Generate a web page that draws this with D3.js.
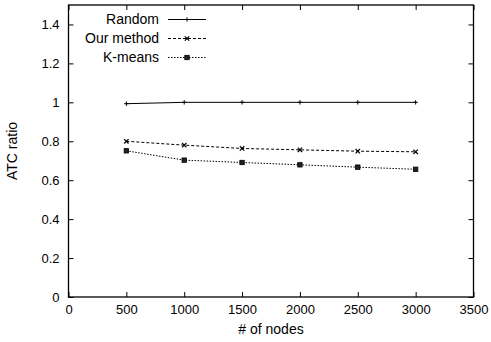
<!DOCTYPE html>
<html>
<head>
<meta charset="utf-8">
<script src="https://cdn.jsdelivr.net/npm/d3@7"></script>
<style>
  body { margin: 0; background: #fff; }
  text { font-family: "Liberation Sans", Arial, sans-serif; font-size: 14px; fill: #000; }
</style>
</head>
<body>
<div id="chart"></div>
<script>
// DATA
var nodes = [500, 1000, 1500, 2000, 2500, 3000];
var randomVals = [0.993, 1.0, 1.0, 1.0, 1.0, 1.0];
var ourVals = [0.800, 0.780, 0.763, 0.756, 0.749, 0.746];
var kmeansVals = [0.751, 0.703, 0.691, 0.679, 0.667, 0.656];
var xTicks = [0, 500, 1000, 1500, 2000, 2500, 3000, 3500];
var yTicks = [0, 0.2, 0.4, 0.6, 0.8, 1, 1.2, 1.4];

var W = 491, H = 342;
var margin = {top: 5, right: 17.5, bottom: 45, left: 68.5};
var width = W - margin.left - margin.right,
    height = H - margin.top - margin.bottom;

var svg = d3.select("#chart").append("svg")
  .attr("width", W).attr("height", H);
var g = svg.append("g")
  .attr("transform", "translate(" + margin.left + "," + margin.top + ")");

var x = d3.scaleLinear().domain([0, 3500]).range([0, width]);
var y = d3.scaleLinear().domain([0, 1.5]).range([height, 0]);

// ticks (inward, mirrored like gnuplot)
var tl = 5;
g.append("g").attr("transform", "translate(0," + height + ")")
  .call(d3.axisBottom(x).tickValues(xTicks).tickSize(-tl).tickPadding(8).tickFormat(d3.format("d")))
  .call(function(a){ a.select(".domain").remove(); });
g.append("g")
  .call(d3.axisTop(x).tickValues(xTicks).tickSize(-tl).tickFormat(""))
  .call(function(a){ a.select(".domain").remove(); });
g.append("g")
  .call(d3.axisLeft(y).tickValues(yTicks).tickSize(-tl).tickPadding(9).tickFormat(function(d){ return d3.format("")(+d.toFixed(1)); }))
  .call(function(a){ a.select(".domain").remove(); });
g.append("g").attr("transform", "translate(" + width + ",0)")
  .call(d3.axisRight(y).tickValues(yTicks).tickSize(-tl).tickFormat(""))
  .call(function(a){ a.select(".domain").remove(); });
g.selectAll(".tick text").style("font-size", "13px").attr("fill", "#000")
  .style("font-family", "'Liberation Sans', Arial, sans-serif");
g.selectAll(".tick line").attr("stroke", "#000");

g.append("rect").attr("width", width).attr("height", height)
  .attr("fill", "none").attr("stroke", "#000").attr("stroke-width", 1.3);

// labels
svg.append("text").attr("x", margin.left + width / 2).attr("y", 334)
  .attr("text-anchor", "middle").text("# of nodes");
svg.append("text")
  .attr("transform", "translate(17," + (margin.top + height / 2) + ") rotate(-90)")
  .attr("text-anchor", "middle").text("ATC ratio");

var series = [
  {name: "Random", vals: randomVals, dash: null, marker: "plus"},
  {name: "Our method", vals: ourVals, dash: "3,2", marker: "cross"},
  {name: "K-means", vals: kmeansVals, dash: "1.5,1.5", marker: "box"}
];

function drawMarker(sel, type, px, py) {
  var r = 2.2;
  if (type === "plus") {
    sel.append("path").attr("d", "M" + (px - r) + "," + py + "H" + (px + r) + "M" + px + "," + (py - r) + "V" + (py + r))
      .attr("stroke", "#000").attr("stroke-width", 1);
  } else if (type === "cross") {
    sel.append("path").attr("d", "M" + (px - r) + "," + (py - r) + "L" + (px + r) + "," + (py + r) + "M" + (px - r) + "," + (py + r) + "L" + (px + r) + "," + (py - r))
      .attr("stroke", "#000").attr("stroke-width", 1.2);
  } else {
    sel.append("rect").attr("x", px - r).attr("y", py - r).attr("width", 2 * r).attr("height", 2 * r)
      .attr("fill", "#222").attr("stroke", "#000").attr("stroke-width", 0.8);
  }
}

var line = d3.line().x(function(d, i){ return x(nodes[i]); }).y(function(d){ return y(d); });

series.forEach(function(s, k) {
  g.append("path").datum(s.vals).attr("d", line)
    .attr("fill", "none").attr("stroke", "#000").attr("stroke-width", 1)
    .attr("stroke-dasharray", s.dash);
  s.vals.forEach(function(v, i){ drawMarker(g, s.marker, x(nodes[i]), y(v)); });

  // legend
  var ly = 19.5 + k * 19;
  svg.append("text").attr("x", 159).attr("y", ly).attr("dy", "0.35em")
    .attr("text-anchor", "end").text(s.name);
  svg.append("line").attr("x1", 168).attr("x2", 206).attr("y1", ly).attr("y2", ly)
    .attr("stroke", "#000").attr("stroke-width", 1).attr("stroke-dasharray", s.dash);
  drawMarker(svg, s.marker, 187, ly);
});
</script>
</body>
</html>
